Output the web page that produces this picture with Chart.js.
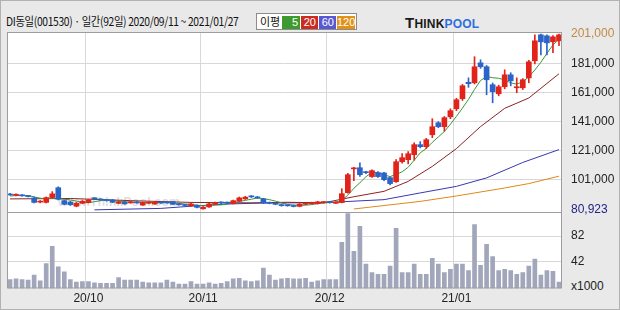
<!DOCTYPE html>
<html>
<head>
<meta charset="utf-8">
<script src="https://cdn.jsdelivr.net/npm/chart.js@4.4.1/dist/chart.umd.min.js"></script>
<style>
body{margin:0;width:620px;height:310px;overflow:hidden;background:#e9e9e9;font-family:"Noto Sans CJK KR",sans-serif;}
#wrap{position:relative;width:620px;height:310px;}
#edge{position:absolute;left:0;top:0;width:618px;height:308px;border:1px solid #b2b2b2;}
#plot{position:absolute;left:7px;top:32px;width:555px;height:257px;background:#fff;}
#wm{position:absolute;left:58px;top:195px;font:bold 12px "Liberation Sans",sans-serif;color:#dedede;letter-spacing:0.3px;}
canvas{position:absolute;left:0;top:0;}
#title{position:absolute;left:6px;top:12px;font-size:12px;color:#111;letter-spacing:-0.4px;white-space:nowrap;transform:scaleX(0.86);transform-origin:0 0;}
#mabox{position:absolute;left:256px;top:13px;width:99px;height:15px;background:#fff;border:1px solid #8c8c8c;}
#mabox span{position:absolute;top:2px;height:13px;font:11px "Liberation Sans",sans-serif;line-height:13px;color:#fff;text-align:right;box-sizing:border-box;padding-right:2px;white-space:nowrap;}
#mabox .lbl{left:3px;width:22px;color:#111;font:11px "Noto Sans CJK KR",sans-serif;line-height:13px;text-align:left;top:1px;padding:0;}
#logo{position:absolute;left:405px;top:14px;font:bold 12px "Liberation Sans",sans-serif;color:#1a1a1a;letter-spacing:0.2px;}
#logo .t{font-size:15px;}
#logo .p{color:#2d6fe0;}
#unit{position:absolute;left:571px;top:279px;font:12px "Liberation Sans",sans-serif;color:#222;}
</style>
</head>
<body>
<div id="wrap">
  <div id="edge"></div>
  <div id="plot"></div>
  <div id="wm">www.ThinkPool.com</div>
  <div id="title">DI동일(001530) · 일간(92일) 2020/09/11 ~ 2021/01/27</div>
  <div id="mabox">
    <span class="lbl">이평</span>
    <span style="left:25px;width:18px;background:#3d9a2e">5</span>
    <span style="left:44px;width:17px;background:#cc2b1f">20</span>
    <span style="left:62px;width:17px;background:#5858d0">60</span>
    <span style="left:80px;width:18px;background:#e39218">120</span>
  </div>
  <div id="logo"><span class="t">T</span>HINK<span class="p">POOL</span></div>
  <div id="unit">x1000</div>
  <canvas id="chart" width="620" height="310"></canvas>
</div>
<script>
//trading days shown (92)
const dates = [
 '2020-09-11','2020-09-14','2020-09-15','2020-09-16','2020-09-17','2020-09-18','2020-09-21','2020-09-22','2020-09-23','2020-09-24','2020-09-25','2020-09-28','2020-09-29',
 '2020-10-05','2020-10-06','2020-10-07','2020-10-08','2020-10-12','2020-10-13','2020-10-14','2020-10-15','2020-10-16','2020-10-19','2020-10-20','2020-10-21','2020-10-22','2020-10-23','2020-10-26','2020-10-27','2020-10-28','2020-10-29','2020-10-30',
 '2020-11-02','2020-11-03','2020-11-04','2020-11-05','2020-11-06','2020-11-09','2020-11-10','2020-11-11','2020-11-12','2020-11-13','2020-11-16','2020-11-17','2020-11-18','2020-11-19','2020-11-20','2020-11-23','2020-11-24','2020-11-25','2020-11-26','2020-11-27','2020-11-30',
 '2020-12-01','2020-12-02','2020-12-03','2020-12-04','2020-12-07','2020-12-08','2020-12-09','2020-12-10','2020-12-11','2020-12-14','2020-12-15','2020-12-16','2020-12-17','2020-12-18','2020-12-21','2020-12-22','2020-12-23','2020-12-24','2020-12-28','2020-12-29','2020-12-30',
 '2021-01-04','2021-01-05','2021-01-06','2021-01-07','2021-01-08','2021-01-11','2021-01-12','2021-01-13','2021-01-14','2021-01-15','2021-01-18','2021-01-19','2021-01-20','2021-01-21','2021-01-22','2021-01-25','2021-01-26','2021-01-27'
]

//prices (won)
const open = [91200,90500,90600,90200,88700,85800,85600,88900,95700,86800,85800,83000,85000,
 85500,88300,87800,87300,87200,85000,85800,85300,85900,83800,85100,84500,85800,85600,86000,84300,83800,83300,83600,
 81200,82500,84400,85600,85500,84800,86500,88000,89700,89300,88000,85500,85000,83900,83500,83400,82900,84300,84700,84800,85500,
 85900,85000,85500,92300,108600,109400,106300,103300,106000,105800,102600,99800,113500,114900,118300,125200,123800,132000,140200,137500,144300,
 149800,156700,168000,167600,181300,178600,166300,160100,164900,173100,164200,164200,171000,182700,200500,199800,195700,196400]
const high = [91900,91500,90900,90500,89200,86900,89400,93000,96300,87300,86500,85600,86900,
 87800,89000,88200,87800,87600,86600,86200,86400,86300,85900,86000,86000,86200,86000,86400,84700,84200,85000,84000,
 82700,85000,85800,86000,85900,87200,89300,89800,90300,89700,88400,85900,85400,84300,83900,83800,84800,85200,85800,86400,86300,
 86200,86000,95000,105500,109700,112800,106900,108000,106700,106300,103000,115000,119000,120500,126500,127300,129500,143000,141000,144500,149800,
 157000,166500,171000,185500,183400,179500,167500,166000,176500,174500,171000,170500,183000,200500,201000,200500,200000,201000]
const low = [90500,90100,89800,89300,85200,85300,85200,88500,87300,84000,83600,82600,84700,
 85200,87500,87000,86500,85400,84700,84300,85000,85000,83500,84700,84200,84900,85000,84000,83700,83200,83000,81900,
 80923,82200,84000,84800,84700,84500,86200,87700,89000,88300,84900,84600,84000,83000,83000,82500,82600,84000,84400,84500,85200,
 85100,84800,85300,92000,100500,103500,105300,102800,102800,100500,97600,99300,112500,112000,114500,123000,122500,130000,136800,134500,143000,
 148500,155500,164500,166800,177500,159400,153900,158700,163500,165500,160800,163000,167600,180500,186800,186800,188200,193000]
const close = [90700,90900,90100,89600,85600,86300,88900,91500,87800,84300,84000,85000,86400,
 87300,88000,87300,86900,85700,86100,84600,85900,85300,85500,85400,85600,85200,85300,84300,84000,83500,84500,82200,
 82300,84600,85400,85200,85100,86800,88700,89200,89400,88700,85200,85000,84300,83400,83300,82800,84400,84800,85400,86000,85900,
 85500,85600,91600,104600,109100,104600,106000,107400,103300,101200,98500,113500,116300,119000,125200,123800,128600,137500,137500,143700,148500,
 156000,165600,167000,178600,178600,169700,161500,164900,173100,169000,164900,169700,182000,196400,195700,195000,199100,200500]

//volume, x1000 shares
const volume = [14,15,14,13,21,12,39,66,34,26,14,10,11,
 11,9,8,8,8,17,13,13,13,10,9,9,9,13,10,7,7,11,7,
 7,9,7,8,11,15,16,12,11,12,32,21,13,15,16,15,15,16,10,12,14,
 14,14,72,117,58,97,38,25,22,22,35,94,25,25,38,22,22,47,38,25,30,
 38,38,28,100,36,69,50,28,30,28,22,25,35,46,21,28,27,10]

//moving averages
const ma5 = [90000,90300,90400,90300,89400,88500,88100,88400,88000,87800,87300,86500,85500,
 85400,86100,86800,87200,87000,86800,86100,85800,85500,85500,85300,85500,85400,85400,85200,84900,84500,84300,83700,
 83300,83400,83800,83900,84500,85400,86200,87000,87800,88600,88200,87500,86500,85300,84200,83800,83600,83700,84100,84700,85300,
 85500,85700,86900,90600,95300,99100,103200,106300,106100,104500,103300,104800,106600,109700,114500,119600,122600,126800,130500,134200,139200,
 144600,150300,156200,163100,169200,171900,171100,170700,169600,167600,166700,168300,171700,176400,181700,187800,193600,197300]
const ma20Idx = [0,10,20,30,40,46,52,57,62,66,70,74,78,82,86,91]
const ma20Val = [88000,88300,86800,85600,85300,85700,85300,89500,93200,100000,110300,122500,137600,150100,157200,173800]
const ma60Idx = [14,25,30,36,42,52,62,68,74,79,85,91]
const ma60Val = [80500,81500,83000,84500,85200,85400,87500,92100,96600,102400,113000,121800]
const ma120Idx = [57,68,74,82,86,91]
const ma120Val = [81100,86300,90000,95500,98500,103600]

//axis ticks
const priceTicks = [201000,181000,161000,141000,121000,101000,80923]
const volTicks = [82,42]

const upColor = '#e2231a'
const downColor = '#2a64c8'
const gridColor = '#d8d8d8'

function sparse(idx, val) { //put the read points on the 92 day axis, gaps are null
    let arr = dates.map(() => null)
    idx.forEach((k, j) => { arr[k] = val[j] })
    return arr
}
function monthStart(i) {
    return i > 0 && i < dates.length && dates[i].slice(5, 7) != dates[i - 1].slice(5, 7)
}

let candleColors = close.map((c, i) => c >= open[i] ? upColor : downColor)

const framePlugin = {
    id: 'frame',
    afterDraw(chart) {
        const { ctx, chartArea: a } = chart
        let py = Math.round(chart.scales.y.bottom) + 0.5
        ctx.save()
        ctx.strokeStyle = '#9d9d9d'
        ctx.lineWidth = 1
        ctx.strokeRect(a.left + 0.5, a.top + 0.5, a.width - 1, a.height - 1)
        ctx.beginPath()
        ctx.moveTo(a.left, py)
        ctx.lineTo(a.right, py)
        ctx.stroke()
        ctx.restore()
    }
}

const tickFont = { family: 'Liberation Sans', size: 12 }

new Chart(document.getElementById('chart'), {
    type: 'bar',
    data: {
        labels: dates,
        datasets: [
            { label: 'body', data: open.map((o, i) => [o, close[i]]), yAxisID: 'y', backgroundColor: candleColors, barThickness: 5, minBarLength: 1, grouped: false, order: 0 },
            { label: 'wick', data: low.map((l, i) => [l, high[i]]), yAxisID: 'y', backgroundColor: candleColors, barThickness: 1, grouped: false, order: 1 },
            { type: 'line', label: '5', data: ma5, yAxisID: 'y', borderColor: '#3b9636', borderWidth: 1, pointRadius: 0, order: 2 },
            { type: 'line', label: '20', data: sparse(ma20Idx, ma20Val), yAxisID: 'y', borderColor: '#8a2424', borderWidth: 1, pointRadius: 0, spanGaps: true, order: 3 },
            { type: 'line', label: '60', data: sparse(ma60Idx, ma60Val), yAxisID: 'y', borderColor: '#3838b0', borderWidth: 1, pointRadius: 0, spanGaps: true, order: 4 },
            { type: 'line', label: '120', data: sparse(ma120Idx, ma120Val), yAxisID: 'y', borderColor: '#e0881c', borderWidth: 1, pointRadius: 0, spanGaps: true, order: 5 },
            { label: 'volume', data: volume, yAxisID: 'yv', backgroundColor: '#a1a6bb', barThickness: 4, grouped: false, order: 6 }
        ]
    },
    options: {
        responsive: false,
        animation: false,
        layout: { padding: { top: 32, left: 7, right: 0, bottom: 0 } },
        plugins: { legend: { display: false }, tooltip: { enabled: false } },
        scales: {
            x: {
                offset: true,
                grid: { offset: true, drawTicks: false, color: ctx => monthStart(ctx.index) ? gridColor : 'rgba(0,0,0,0)' },
                border: { display: false },
                ticks: {
                    autoSkip: false, maxRotation: 0, padding: 3, font: tickFont, color: '#222',
                    callback: (v, i) => monthStart(i) ? dates[i].slice(2, 4) + '/' + dates[i].slice(5, 7) : ''
                },
                afterFit: s => { s.height = 21.5 }
            },
            y: {
                position: 'right', stack: 'panes', stackWeight: 180,
                min: 79030, max: 202440,
                afterBuildTicks: s => { s.ticks = priceTicks.map(v => ({ value: v })) },
                afterFit: s => { s.width = 58 },
                grid: { drawTicks: false, color: ctx => (ctx.tick && ctx.tick.value < 200000 && ctx.tick.value > 90000) ? gridColor : 'rgba(0,0,0,0)' },
                border: { display: false },
                ticks: {
                    autoSkip: false, padding: 9, font: tickFont,
                    color: ctx => ctx.tick.value == 201000 ? '#c08a44' : (ctx.tick.value == 80923 ? '#23238a' : '#222'),
                    callback: v => v.toLocaleString('en-US')
                }
            },
            yv: {
                position: 'right', stack: 'panes', stackWeight: 76.5,
                min: 0, max: 119.5,
                afterBuildTicks: s => { s.ticks = volTicks.map(v => ({ value: v })) },
                afterFit: s => { s.width = 58 },
                grid: { drawTicks: false, color: gridColor },
                border: { display: false },
                ticks: { autoSkip: false, padding: 9, font: tickFont, color: '#222' }
            }
        }
    },
    plugins: [framePlugin]
});
</script>
</body>
</html>
